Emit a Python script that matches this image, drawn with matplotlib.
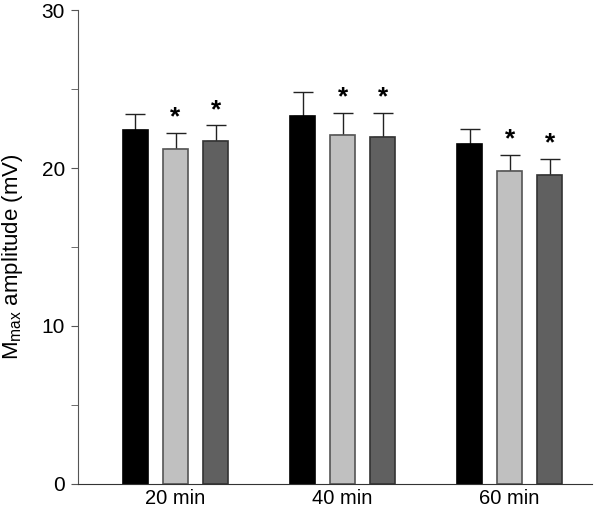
import numpy as np
import matplotlib
matplotlib.use('Agg')
import matplotlib.pyplot as plt
from matplotlib.ticker import MultipleLocator

plt.rcParams['font.family'] = ['Liberation Sans', 'DejaVu Sans']
plt.rcParams['mathtext.fontset'] = 'custom'
plt.rcParams['mathtext.rm'] = 'Liberation Sans'
plt.rcParams['mathtext.it'] = 'Liberation Sans'

# data
times = ['20 min', '40 min', '60 min']
black_vals = [22.4, 23.3, 21.5]
black_err = [1.0, 1.5, 0.95]
light_vals = [21.2, 22.1, 19.8]
light_err = [1.05, 1.4, 1.05]
dark_vals = [21.7, 22.0, 19.55]
dark_err = [1.0, 1.5, 1.05]
light_sig = [True, True, True]
dark_sig = [True, True, True]

fig = plt.figure(figsize=(6, 5.12), dpi=100)
ax = fig.add_axes([0.13, 0.055, 0.857, 0.925])

x = np.arange(len(times))
w = 0.15
off = 0.24
series = [
    (black_vals, black_err, '#000000', '#000000', None),
    (light_vals, light_err, '#c0c0c0', '#555555', light_sig),
    (dark_vals, dark_err, '#606060', '#333333', dark_sig),
]
for i, (vals, err, fc, ec, sig) in enumerate(series):
    xs = x + (i - 1) * off
    ax.bar(xs, vals, width=w, color=fc, edgecolor=ec, linewidth=1.2, zorder=2)
    ax.errorbar(xs, vals, yerr=[np.zeros(len(err)), err], fmt='none',
                ecolor='#222222', elinewidth=1, capsize=7, capthick=1, zorder=1)
    if sig is not None:
        for xi, v, e, s in zip(xs, vals, err, sig):
            if s:
                ax.text(xi, v + e + 0.2, '*', ha='center', va='bottom',
                        fontsize=19, fontweight='bold')

ax.set_xlim(-0.584, 2.494)
ax.set_ylim(0, 30)
ax.set_xticks(x)
ax.set_xticklabels(times, fontsize=14.5)
ax.tick_params(axis='x', length=0, pad=4)
ax.yaxis.set_major_locator(MultipleLocator(10))
ax.yaxis.set_minor_locator(MultipleLocator(5))
ax.tick_params(axis='y', which='both', length=5, color='#555555', labelsize=15, pad=4.5)
ax.spines['top'].set_visible(False)
ax.spines['right'].set_visible(False)
ax.spines['left'].set_color('#555555')
ax.spines['bottom'].set_color('#333333')
ax.set_ylabel(r'M$_{\mathrm{max}}$ amplitude (mV)', fontsize=16)
ax.yaxis.set_label_coords(-0.103, 0.479)

fig.savefig('out.png', dpi=100)
